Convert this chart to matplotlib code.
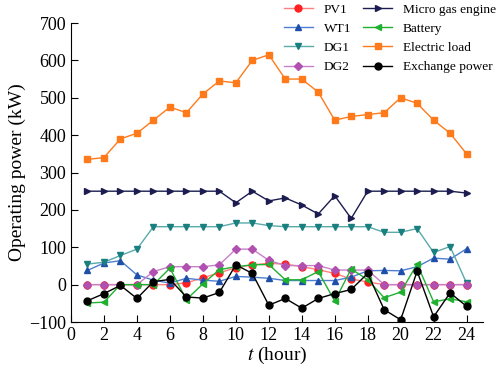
import matplotlib
matplotlib.use('Agg')
import matplotlib.pyplot as plt

plt.rcParams['font.family'] = ['Liberation Serif', 'DejaVu Serif']
plt.rcParams['mathtext.fontset'] = 'stix'

hours = list(range(1, 25))
pv1 = [0, 0, 0, 0, 0, 0, 5, 18, 32, 45, 53, 57, 55, 48, 40, 30, 15, 7, 0, 0, 0, 0, 0, 0]
wt1 = [38, 58, 64, 26, 12, 4, 17, 12, 9, 22, 20, 17, 11, 11, 11, 11, 20, 37, 38, 37, 48, 71, 68, 96]
dg1 = [55, 60, 78, 95, 155, 155, 155, 155, 155, 165, 165, 158, 155, 155, 155, 155, 155, 155, 140, 140, 150, 86, 102, 4]
dg2 = [0, 0, 0, 0, 35, 48, 48, 48, 53, 95, 95, 65, 51, 51, 51, 39, 39, 39, 0, 0, 0, 0, 0, 0]
micro_gas = [250, 250, 250, 250, 250, 250, 250, 250, 250, 219, 250, 224, 232, 213, 189, 238, 177, 250, 250, 250, 250, 250, 250, 245]
battery = [-49, -47, 0, 0, 0, 44, -40, 2, 40, 48, 53, 54, 13, 13, 35, -44, 42, 13, -35, -20, 55, -46, -38, -46]
electric_load = [335, 340, 390, 405, 440, 475, 460, 510, 545, 540, 600, 615, 550, 550, 515, 440, 450, 455, 460, 500, 485, 440, 405, 350]
exchange = [-43, -24, -2, -37, 8, 14, -33, -36, -21, 53, 30, -55, -37, -63, -37, -24, -13, 30, -67, -94, 36, -86, -22, -58]

series = [
    ('PV1', pv1, '#ff2020', '#ff8080', 'o'),
    ('WT1', wt1, '#1f4fa8', '#4f7fd0', '^'),
    ('DG1', dg1, '#1a7f7f', '#5aaaaa', 'v'),
    ('DG2', dg2, '#b050b0', '#c880c8', 'D'),
    ('Micro gas engine', micro_gas, '#1c1c50', '#1c1c50', '>'),
    ('Battery', battery, '#20b030', '#20b030', '<'),
    ('Electric load', electric_load, '#ff7a1a', '#ff7a1a', 's'),
    ('Exchange power', exchange, '#000000', '#000000', 'o'),
]

fig = plt.figure(figsize=(4.98, 3.74), dpi=100)
ax = fig.add_axes([0.1426, 0.139, 0.8274, 0.7995])

for name, vals, mcol, lcol, mk in series:
    ms = 4.3 if mk in ('D', 's') else 5
    ax.plot(hours, vals, color=lcol, marker=mk, markersize=ms,
            markerfacecolor=mcol, markeredgecolor=mcol, linewidth=1.0, label=name)

ax.set_xlim(0, 25)
ax.set_ylim(-100, 700)
ax.set_xticks(range(0, 25, 2))
ax.set_yticks(range(-100, 701, 100))
ax.set_yticklabels(['\u2212100'] + [str(v) for v in range(0, 701, 100)])
ax.tick_params(direction='in', labelsize=13, length=5)
ax.spines['top'].set_visible(False)
ax.spines['right'].set_visible(False)
ax.set_xlabel('$t$ (hour)', fontsize=14, labelpad=1)
ax.set_ylabel('Operating power (kW)', fontsize=14, labelpad=2)

ax.legend(ncol=2, loc='upper right', bbox_to_anchor=(1.032, 1.066), frameon=False,
          fontsize=9.6, handlelength=2.2, columnspacing=0.9, labelspacing=0.52,
          handletextpad=0.8, borderaxespad=0, borderpad=0)

fig.savefig('out.png', dpi=100)
